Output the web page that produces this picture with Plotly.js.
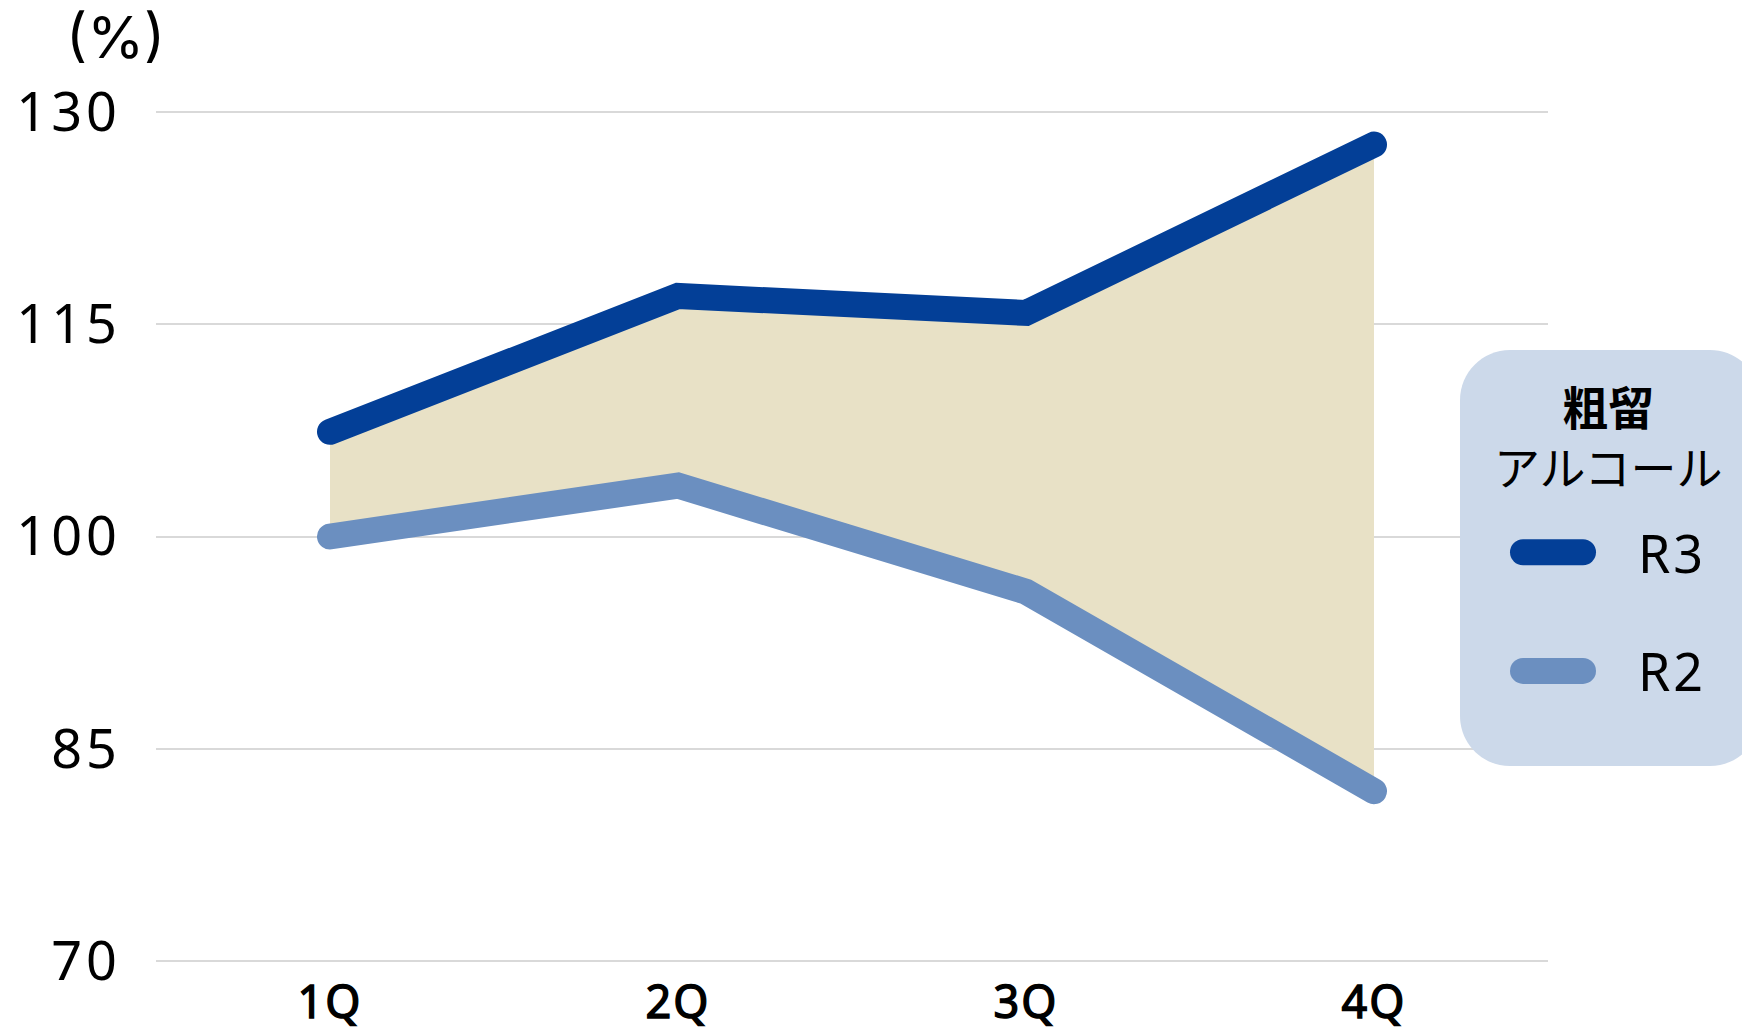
<!DOCTYPE html>
<html>
<head>
<meta charset="utf-8">
<script src="https://cdn.plot.ly/plotly-3.0.1.min.js"></script>
<style>
  html, body { margin: 0; padding: 0; background: #ffffff; }
  #chart { width: 1742px; height: 1032px; }
  /* rounded ends on the series lines, sharp corners at the joints */
  .scatterlayer .js-line { stroke-linecap: round !important; stroke-linejoin: miter !important; }
  /* legend shows only the line swatch, not the band fill */
  .legend .legendfill { display: none; }
  /* wider tick lettering; quarter labels slightly heavier */
  .ytick text { letter-spacing: 4px; }
  .xtick text { letter-spacing: 2px; stroke: #000000; stroke-width: 1.4px; }
  .legend .legendtext { letter-spacing: 3px; }
</style>
</head>
<body>
<div id="chart"></div>
<script>
// Quarterly index (%) of crude alcohol (粗留アルコール), R3 vs R2
const quarters = ['1Q', '2Q', '3Q', '4Q'];
const r3Values = [107.4, 117.0, 115.8, 127.7];
const r2Values = [100.0, 103.6, 96.1, 82.0];
const seriesNames = ['R3', 'R2'];
const yTicks = [70, 85, 100, 115, 130];
const unitLabel = '(%)';
const legendTitleLines = ['粗留', 'アルコール'];

const R3_COLOR = '#033f97';
const R2_COLOR = '#6b8fc0';
const BAND_COLOR = '#e8e1c6';
const PANEL_COLOR = '#ccd9ea';
const FONT = 'Noto Sans, Noto Sans CJK JP, sans-serif';
const FONT_ALT = 'Inter, Noto Sans, Noto Sans CJK JP, sans-serif';

const data = [
  {
    type: 'scatter', mode: 'lines', name: seriesNames[1],
    x: quarters, y: r2Values,
    line: { color: R2_COLOR, width: 26 },
    legendgroup: 'r2', legendrank: 2,
    hoverinfo: 'skip'
  },
  {
    type: 'scatter', mode: 'lines', name: seriesNames[0],
    x: quarters, y: r3Values,
    line: { color: R3_COLOR, width: 26 },
    fill: 'tonexty', fillcolor: BAND_COLOR,
    legendgroup: 'r3', legendrank: 1,
    hoverinfo: 'skip'
  }
];

// rounded panel behind the legend (pixel path anchored at its top-left corner)
const PW = 300, PH = 416, PR = 50, K = PR * 0.5523;
const panelPath = [
  'M', PR, 0, 'L', PW - PR, 0,
  'C', PW - PR + K, 0, PW, -PR + K, PW, -PR,
  'L', PW, -PH + PR,
  'C', PW, -PH + PR - K, PW - PR + K, -PH, PW - PR, -PH,
  'L', PR, -PH,
  'C', PR - K, -PH, 0, -PH + PR - K, 0, -PH + PR,
  'L', 0, -PR,
  'C', 0, -PR + K, PR - K, 0, PR, 0, 'Z'
].join(' ');

const px = v => (v - 156) / 1392;   // pixel column -> paper x
const py = v => (968 - v) / 863;    // pixel row -> paper y

const layout = {
  width: 1742, height: 1032,
  margin: { l: 156, r: 194, t: 105, b: 64, pad: 0 },
  paper_bgcolor: '#ffffff', plot_bgcolor: '#ffffff',
  font: { family: FONT, color: '#000000' },
  showlegend: true,
  xaxis: {
    type: 'category', categoryorder: 'array', categoryarray: quarters,
    range: [-0.5, 3.5],
    showgrid: false, zeroline: false, showline: false, ticks: '',
    tickfont: { size: 45, family: FONT, color: '#000000' },
    ticklabelstandoff: 4,
    fixedrange: true
  },
  yaxis: {
    range: [69.5, 130.5],
    tickvals: yTicks, ticktext: yTicks.map(String),
    showgrid: true, gridcolor: '#d9d9d9', gridwidth: 2,
    zeroline: false, showline: false, ticks: '',
    tickfont: { size: 54, family: FONT, color: '#000000' },
    ticklabelstandoff: 34,
    fixedrange: true
  },
  legend: {
    xref: 'paper', yref: 'paper',
    x: px(1468), xanchor: 'left',
    y: py(512), yanchor: 'top',
    bgcolor: 'rgba(0,0,0,0)', borderwidth: 0,
    itemwidth: 160, tracegroupgap: 48,
    font: { size: 52, family: FONT, color: '#000000' }
  },
  shapes: [{
    type: 'path', layer: 'above',
    xref: 'paper', yref: 'paper',
    xsizemode: 'pixel', ysizemode: 'pixel',
    xanchor: px(1460), yanchor: py(350),
    path: panelPath,
    fillcolor: PANEL_COLOR, line: { width: 0 }
  }],
  annotations: [
    {
      xref: 'paper', yref: 'paper',
      x: px(115), y: py(37),
      xanchor: 'center', yanchor: 'middle',
      text: unitLabel, showarrow: false,
      font: { size: 58, family: FONT_ALT, color: '#000000' }
    },
    {
      xref: 'paper', yref: 'paper',
      x: px(1608), y: py(437),
      xanchor: 'center', yanchor: 'middle', align: 'center',
      text: '<b>' + legendTitleLines[0] + '</b><br>' + legendTitleLines[1], showarrow: false,
      font: { size: 46, family: FONT, color: '#000000' }
    }
  ]
};

// legend swatches: long rounded bars placed a fixed gap left of each label
const SWATCH_GAP = 85, SWATCH_HALF = 30, SWATCH_WIDTH = 26;

Plotly.newPlot('chart', data, layout, { staticPlot: true, displayModeBar: false }).then(function (gd) {
  gd.querySelectorAll('.legend .traces').forEach(function (item) {
    const text = item.querySelector('.legendtext');
    const path = item.querySelector('.legendlines path');
    if (!text || !path) return;
    const tb = text.getBoundingClientRect();
    const m = path.getScreenCTM();
    const cx = (tb.left - SWATCH_GAP - m.e) / m.a;
    path.setAttribute('d', 'M' + (cx - SWATCH_HALF) + ',0h' + (2 * SWATCH_HALF));
    path.style.strokeWidth = SWATCH_WIDTH + 'px';
    path.style.strokeLinecap = 'round';
  });
});
</script>
</body>
</html>
